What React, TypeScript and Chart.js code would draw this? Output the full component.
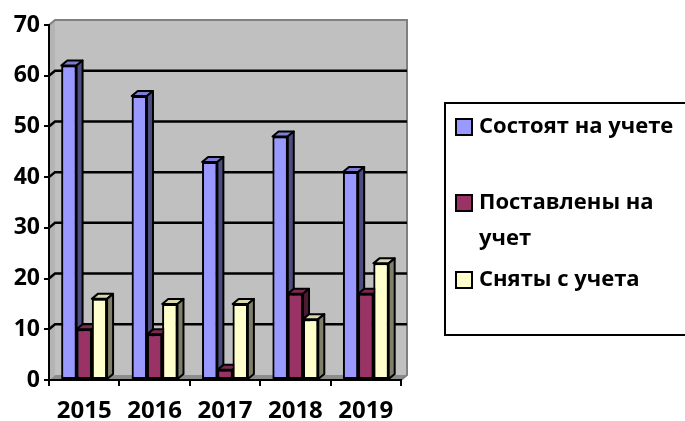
import React, { useEffect, useRef } from 'react';
import { Chart, registerables } from 'chart.js';

Chart.register(...registerables);

const categories = ['2015', '2016', '2017', '2018', '2019'];
const seriesLabels = ['Состоят на учете', 'Поставлены на учет', 'Сняты с учета'];
const legendLines = [['Состоят на учете'], ['Поставлены на', 'учет'], ['Сняты с учета']];
const registered = [62, 56, 43, 48, 41];
const added = [10, 9, 2, 17, 17];
const removed = [16, 15, 15, 12, 23];
const yMin = 0;
const yMax = 70;
const yStep = 10;

const frontColors = ['#9999ff', '#993366', '#ffffcc'];
const topColors = ['#7d7dd6', '#7a2952', '#d9d9ad'];
const sideColors = ['#4d4d80', '#4d1a33', '#80806a'];

const FONT = "'Open Sans', 'DejaVu Sans', sans-serif";
const DX = 6;
const DY = -5;

const wallPlugin = {
  id: 'wall3d',
  beforeDraw(chart: any) {
    const { ctx, chartArea } = chart;
    const { left, right, top, bottom } = chartArea;
    const y = chart.scales.y;
    ctx.save();
    ctx.fillStyle = '#c0c0c0';
    ctx.fillRect(left + DX, top + DY, right - left, bottom - top);
    ctx.fillStyle = '#b4b4b4';
    ctx.beginPath();
    ctx.moveTo(left, top);
    ctx.lineTo(left + DX, top + DY);
    ctx.lineTo(left + DX, bottom + DY);
    ctx.lineTo(left, bottom);
    ctx.closePath();
    ctx.fill();
    ctx.fillStyle = '#8c8c8c';
    ctx.beginPath();
    ctx.moveTo(left, bottom);
    ctx.lineTo(left + DX, bottom + DY);
    ctx.lineTo(right + DX, bottom + DY);
    ctx.lineTo(right, bottom);
    ctx.closePath();
    ctx.fill();
    ctx.strokeStyle = '#808080';
    ctx.lineWidth = 2;
    ctx.beginPath();
    ctx.moveTo(left, top);
    ctx.lineTo(left + DX, top + DY);
    ctx.lineTo(right + DX, top + DY);
    ctx.lineTo(right + DX, bottom + DY);
    ctx.lineTo(right, bottom);
    ctx.stroke();
    ctx.strokeStyle = '#000000';
    ctx.lineWidth = 2.5;
    for (let v = yMin + yStep; v < yMax; v += yStep) {
      const yy = y.getPixelForValue(v);
      ctx.beginPath();
      ctx.moveTo(left, yy);
      ctx.lineTo(left + DX, yy + DY);
      ctx.lineTo(right + DX, yy + DY);
      ctx.stroke();
    }
    ctx.restore();
  },
  afterDatasetsDraw(chart: any) {
    const { ctx } = chart;
    const n = chart.data.datasets.length;
    for (let di = 0; di < n; di++) {
      const meta = chart.getDatasetMeta(di);
      meta.data.forEach((bar: any) => {
        bar.draw(ctx, chart.chartArea);
      });
      ctx.save();
      ctx.strokeStyle = '#000000';
      ctx.lineWidth = 2;
      ctx.lineJoin = 'round';
      meta.data.forEach((bar: any) => {
        const { x, y, base, width } = bar.getProps(['x', 'y', 'base', 'width'], true);
        const l = x - width / 2;
        const r = x + width / 2;
        ctx.fillStyle = topColors[di];
        ctx.beginPath();
        ctx.moveTo(l, y);
        ctx.lineTo(l + DX, y + DY);
        ctx.lineTo(r + DX, y + DY);
        ctx.lineTo(r, y);
        ctx.closePath();
        ctx.fill();
        ctx.stroke();
        ctx.fillStyle = sideColors[di];
        ctx.beginPath();
        ctx.moveTo(r, y);
        ctx.lineTo(r + DX, y + DY);
        ctx.lineTo(r + DX, base + DY);
        ctx.lineTo(r, base);
        ctx.closePath();
        ctx.fill();
        ctx.stroke();
      });
      ctx.restore();
    }
  },
};

const legendPlugin = {
  id: 'boxLegend',
  afterDraw(chart: any) {
    const { ctx } = chart;
    ctx.save();
    ctx.strokeStyle = '#000000';
    ctx.lineWidth = 2;
    ctx.fillStyle = '#ffffff';
    ctx.fillRect(445, 103, 260, 232);
    ctx.strokeRect(445, 103, 260, 232);
    const rowY = [127, 203, 280];
    ctx.font = `bold 22px ${FONT}`;
    ctx.textBaseline = 'middle';
    ctx.textAlign = 'left';
    legendLines.forEach((lines, i) => {
      const cy = rowY[i];
      ctx.fillStyle = frontColors[i];
      ctx.fillRect(456, cy - 8, 16, 16);
      ctx.strokeStyle = '#000000';
      ctx.strokeRect(456, cy - 8, 16, 16);
      ctx.fillStyle = '#000000';
      lines.forEach((t, j) => {
        ctx.fillText(t, 479, cy + j * 36);
      });
    });
    ctx.restore();
  },
};

export default function App() {
  const ref = useRef<HTMLCanvasElement | null>(null);
  useEffect(() => {
    document.body.style.margin = '0';
    const canvas = ref.current;
    if (!canvas) return;
    const series = [registered, added, removed];
    const chart = new Chart(canvas, {
      type: 'bar',
      data: {
        labels: categories,
        datasets: series.map((d, i) => ({
          label: seriesLabels[i],
          data: d,
          backgroundColor: frontColors[i],
          borderColor: '#000000',
          borderWidth: 2,
          borderSkipped: false,
          barPercentage: 1.0,
          categoryPercentage: 0.65,
        })),
      },
      options: {
        responsive: false,
        animation: false,
        layout: { padding: { top: 25, right: 284, left: 0, bottom: 0 } },
        plugins: {
          legend: { display: false },
          tooltip: { enabled: false },
          title: { display: false },
        },
        scales: {
          x: {
            grid: {
              offset: true,
              drawOnChartArea: false,
              drawTicks: true,
              tickLength: 6,
              color: '#000000',
              lineWidth: 2,
            },
            border: { display: true, color: '#000000', width: 2 },
            ticks: {
              color: '#000000',
              padding: 11,
              font: { family: FONT, size: 24, weight: 'bold' },
            },
            afterFit(scale: any) {
              scale.height = 41;
            },
          },
          y: {
            min: yMin,
            max: yMax,
            ticks: {
              stepSize: yStep,
              color: '#000000',
              padding: 4,
              font: { family: FONT, size: 23, weight: 'bold' },
            },
            grid: {
              drawOnChartArea: false,
              drawTicks: true,
              tickLength: 5,
              color: '#000000',
              lineWidth: 2,
            },
            border: { display: true, color: '#000000', width: 2 },
            afterFit(scale: any) {
              scale.width = 49;
            },
          },
        },
      },
      plugins: [wallPlugin, legendPlugin],
    } as any);
    return () => chart.destroy();
  }, []);
  return (
    <div style={{ width: 685, height: 421, background: '#ffffff' }}>
      <canvas ref={ref} width={685} height={421} />
    </div>
  );
}
